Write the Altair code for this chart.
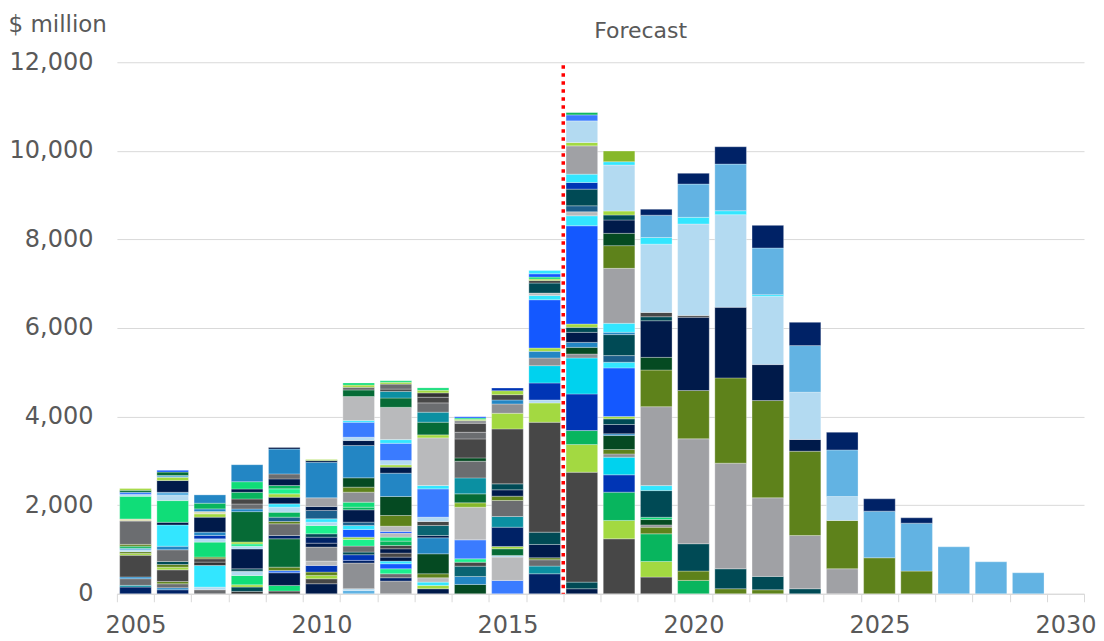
import altair as alt
import pandas as pd

palette = {
    "navy": "#002266", "midnight": "#001a4a", "charcoal": "#333333",
    "darkgray": "#474747", "gray": "#6b6d70", "midgray": "#8e9094",
    "silver": "#a0a1a5", "lightsilver": "#b9babc", "green": "#10dd78",
    "mint": "#1cf08e", "emerald": "#08b55e", "darkgreen": "#066b36",
    "forest": "#054a22", "olive": "#5e821b", "lime": "#a3d941",
    "yellowgreen": "#86b82a", "beige": "#dcdcb4", "cyan": "#33e6ff",
    "aqua": "#00d2ee", "skyblue": "#62b3e3", "paleblue": "#b3daf1",
    "steelblue": "#2386c4", "blue": "#1458ff", "cornflower": "#3a7bff",
    "royal": "#0035b5", "teal": "#004a55", "tealmid": "#0b90a2",
    "tealdark": "#0a6472", "petrol": "#1c5f8c",
}

y2005 = [("navy",150),("tealmid",40),("gray",150),("steelblue",40),("darkgray",490),("lime",40),("olive",40),("paleblue",40),("skyblue",40),("emerald",45),("olive",40),("gray",525),("beige",50),("green",510),("paleblue",40),("cornflower",50),("darkgreen",45),("lime",40)]
y2006 = [("navy",90),("steelblue",45),("gray",90),("olive",50),("darkgray",265),("lime",60),("olive",60),("teal",68),("gray",265),("steelblue",80),("cyan",480),("midnight",60),("green",490),("paleblue",113),("skyblue",75),("midnight",265),("lime",75),("skyblue",40),("darkgreen",75),("blue",40)]
y2007 = [("gray",90),("paleblue",60),("cyan",490),("charcoal",75),("darkgray",75),("olive",38),("green",338),("paleblue",75),("royal",75),("steelblue",75),("midnight",338),("lime",75),("beige",52),("steelblue",60),("emerald",128),("steelblue",188)]
y2008 = [("charcoal",52),("teal",98),("lime",52),("green",210),("paleblue",98),("teal",52),("midnight",451),("paleblue",60),("mint",52),("lime",45),("darkgreen",684),("steelblue",60),("gray",113),("darkgray",113),("emerald",150),("midnight",75),("green",165),("steelblue",384)]
y2009 = [("darkgray",60),("green",128),("midnight",286),("cornflower",52),("olive",75),("darkgreen",639),("navy",75),("gray",264),("olive",52),("petrol",98),("emerald",113),("paleblue",113),("cyan",75),("midnight",150),("lime",75),("mint",113),("emerald",75),("midnight",150),("gray",113),("steelblue",560),("midnight",38)]
y2010 = [("midnight",226),("darkgray",113),("lime",75),("olive",75),("royal",150),("lightsilver",98),("midgray",316),("midnight",90),("navy",135),("teal",75),("mint",188),("paleblue",75),("cyan",75),("petrol",188),("midnight",90),("silver",196),("steelblue",805),("midnight",40),("lime",20)]
y2011 = [("skyblue",75),("paleblue",38),("midgray",580),("navy",60),("royal",128),("teal",60),("gray",135),("mint",150),("lime",52),("blue",174),("cyan",90),("petrol",75),("midnight",278),("emerald",60),("green",113),("midgray",226),("olive",113),("forest",210),("steelblue",729),("midnight",113),("paleblue",75),("cornflower",338),("cyan",38),("lightsilver",541),("darkgreen",150),("gray",60),("lime",50),("green",48)]
y2012 = [("midgray",286),("navy",75),("gray",90),("mint",113),("blue",113),("cyan",60),("midnight",90),("darkgray",90),("midnight",98),("darkgray",75),("emerald",98),("green",90),("lightsilver",90),("blue",38),("lightsilver",120),("olive",241),("forest",429),("steelblue",526),("midnight",135),("lime",52),("paleblue",98),("cornflower",390),("cyan",83),("lightsilver",729),("darkgreen",210),("tealmid",150),("darkgray",52),("gray",113),("lime",40),("green",35)]
y2013 = [("midnight",113),("lime",75),("cyan",75),("lightsilver",98),("olive",90),("forest",451),("steelblue",361),("midnight",52),("tealdark",226),("darkgray",90),("paleblue",98),("cornflower",639),("cyan",75),("lightsilver",1076),("lime",68),("darkgreen",286),("tealmid",226),("gray",210),("darkgray",128),("charcoal",98),("lime",60),("green",53)]
y2014 = [("forest",210),("steelblue",180),("tealdark",233),("darkgray",90),("mint",75),("cornflower",429),("lightsilver",737),("yellowgreen",98),("darkgreen",203),("tealmid",361),("gray",376),("forest",75),("darkgray",429),("gray",150),("darkgray",203),("midgray",60),("lime",30),("green",30),("blue",30)]
y2015 = [("cornflower",301),("lightsilver",526),("paleblue",38),("darkgreen",150),("lime",52),("navy",436),("tealmid",241),("gray",361),("olive",98),("midnight",143),("teal",135),("darkgray",1241),("lime",353),("midgray",210),("steelblue",90),("darkgray",120),("lime",90),("royal",60)]
y2016 = [("navy",451),("tealmid",173),("gray",143),("olive",45),("midnight",301),("teal",278),("darkgray",2481),("lime",436),("paleblue",68),("royal",383),("aqua",391),("midgray",173),("steelblue",150),("lime",75),("blue",1090),("cyan",98),("lightsilver",52),("teal",226),("darkgray",60),("lime",30),("green",45),("blue",75),("cyan",75)]
y2017 = [("midnight",113),("teal",150),("darkgray",2481),("lime",624),("emerald",316),("royal",827),("aqua",812),("midgray",90),("forest",150),("steelblue",113),("midnight",226),("teal",113),("lime",75),("blue",2218),("cyan",226),("lightsilver",90),("petrol",135),("teal",376),("royal",150),("cyan",188),("silver",639),("lime",75),("paleblue",489),("cornflower",135),("emerald",52)]
y2018 = [("darkgray",1241),("lime",414),("emerald",639),("royal",391),("aqua",398),("midgray",75),("olive",98),("forest",316),("steelblue",38),("midnight",211),("teal",128),("lime",52),("blue",1098),("cyan",128),("petrol",150),("teal",474),("steelblue",52),("cyan",203),("silver",1241),("olive",512),("forest",278),("midnight",301),("teal",113),("lime",90),("paleblue",1038),("cyan",75),("yellowgreen",241)]
y2019 = [("darkgray",376),("lime",353),("emerald",624),("olive",150),("midgray",52),("forest",120),("green",52),("teal",602),("cyan",113),("silver",1782),("olive",827),("forest",286),("midnight",827),("teal",90),("darkgray",98),("paleblue",1541),("cyan",150),("skyblue",504),("navy",135)]
y2020 = [("emerald",301),("olive",211),("teal",617),("silver",2369),("olive",1090),("midnight",1654),("darkgray",38),("paleblue",2068),("cyan",150),("skyblue",752),("navy",241)]
y2021 = [("olive",113),("teal",451),("silver",2384),("olive",1925),("midnight",1594),("paleblue",2091),("cyan",90),("skyblue",1053),("navy",391)]
y2022 = [("olive",90),("teal",301),("silver",1775),("olive",2196),("midnight",812),("paleblue",1541),("cyan",38),("skyblue",1053),("navy",512)]
y2023 = [("teal",113),("silver",1203),("olive",1902),("midnight",264),("paleblue",1068),("skyblue",1053),("navy",526)]
y2024 = [("silver",564),("olive",1090),("paleblue",541),("skyblue",1053),("navy",398)]
y2025 = [("olive",812),("skyblue",1053),("navy",278)]
y2026 = [("olive",511),("skyblue",1083),("navy",120)]
y2027 = [("skyblue",1060)]
y2028 = [("skyblue",722)]
y2029 = [("skyblue",474)]

years = [str(y) for y in range(2005, 2031)]
bar_lists = {
    "2005": y2005, "2006": y2006, "2007": y2007, "2008": y2008, "2009": y2009,
    "2010": y2010, "2011": y2011, "2012": y2012, "2013": y2013, "2014": y2014,
    "2015": y2015, "2016": y2016, "2017": y2017, "2018": y2018, "2019": y2019,
    "2020": y2020, "2021": y2021, "2022": y2022, "2023": y2023, "2024": y2024,
    "2025": y2025, "2026": y2026, "2027": y2027, "2028": y2028, "2029": y2029,
}
forecast_start = "2017"
forecast_label_year = "2019"

rows = []
for yr, segs in bar_lists.items():
    for i, (k, v) in enumerate(segs):
        rows.append({"year": yr, "seg": i, "key": k, "value": v})
df = pd.DataFrame(rows)

FONT = "DejaVu Sans"
TXT = "#595959"
GRID = "#d9d9d9"

xscale = alt.Scale(domain=years, paddingInner=0, paddingOuter=0)
yscale = alt.Scale(domain=[0, 12000])

bars = alt.Chart(df).mark_bar(
    width=alt.RelativeBandSize(0.85), stroke="#ffffff", strokeWidth=0.5, strokeOpacity=0.6
).encode(
    x=alt.X("year:O", scale=xscale, title=None, axis=alt.Axis(
        labelExpr="toNumber(datum.value) % 5 == 0 ? datum.value : ''",
        labelAngle=0, tickBand="extent", tickSize=8, tickColor=GRID,
        domainColor=GRID, labelFontSize=24, labelColor=TXT, labelFont=FONT,
        labelPadding=12, grid=False, labelOverlap=False)),
    y=alt.Y("value:Q", stack="zero", scale=yscale, axis=alt.Axis(
        values=[0, 2000, 4000, 6000, 8000, 10000, 12000], format=",.0f",
        grid=True, gridColor=GRID, domain=False, ticks=False, tickSize=0,
        labelFontSize=24, labelColor=TXT, labelFont=FONT, labelPadding=24,
        title="$ million", titleAngle=0, titleX=-109, titleY=-31,
        titleAlign="left", titleBaseline="alphabetic", titleFontSize=23,
        titleFontWeight="normal", titleColor=TXT, titleFont=FONT)),
    color=alt.Color("key:N", scale=alt.Scale(domain=list(palette.keys()),
                                             range=list(palette.values())), legend=None),
    order=alt.Order("seg:Q", sort="ascending"),
)

rule = alt.Chart(pd.DataFrame({"year": [forecast_start]})).mark_rule(
    color="#ff0000", strokeWidth=3.5, strokeDash=[3.5, 4.5]
).encode(
    x=alt.X("year:O", bandPosition=0, scale=xscale),
    y=alt.datum(11930), y2=alt.datum(0),
)

label = alt.Chart(pd.DataFrame({"year": [forecast_label_year], "t": ["Forecast"]})).mark_text(
    fontSize=22, color=TXT, font=FONT, dy=-24, dx=3, baseline="alphabetic", align="center"
).encode(
    x=alt.X("year:O", bandPosition=0, scale=xscale),
    y=alt.datum(12000),
    text="t:N",
)

chart = alt.layer(bars, rule, label).properties(
    width=968, height=532,
    autosize=alt.AutoSizeParams(type="none"),
    padding={"left": 109, "top": 54, "right": 12, "bottom": 45},
).configure_view(stroke=None)

chart.save("out.html", embed_options={"renderer": "svg", "actions": False})
